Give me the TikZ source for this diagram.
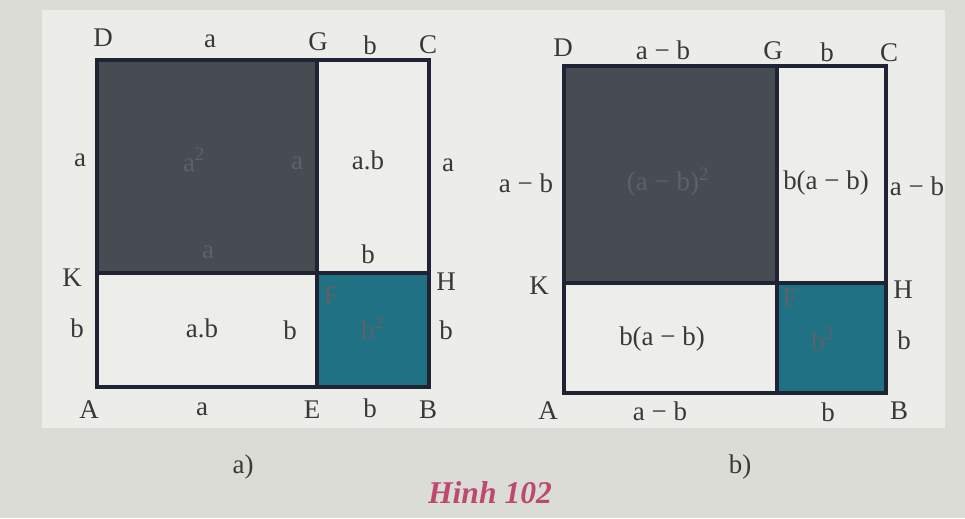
\documentclass[tikz,border=0pt]{standalone}
\usepackage{fontspec}
\setmainfont{Liberation Serif}
\definecolor{bgout}{HTML}{DCDCD6}
\definecolor{panel}{HTML}{ECECE8}
\definecolor{boxwhite}{HTML}{EDEDEA}
\definecolor{darkfill}{HTML}{474C53}
\definecolor{tealfill}{HTML}{1F7183}
\definecolor{edge}{HTML}{1F2333}
\definecolor{ink}{HTML}{383838}
\definecolor{dimink}{HTML}{5C6268}
\definecolor{pinkink}{HTML}{BC4A70}
\tikzset{
  lbl/.style={text=ink, font=\fontsize{23}{26}\selectfont, inner sep=0pt},
  dimlbl/.style={text=dimink, font=\fontsize{23}{26}\selectfont, inner sep=0pt},
  outline/.style={draw=edge, line width=3pt, line join=miter},
}
\begin{document}
\begin{tikzpicture}[x=0.03cm,y=-0.03cm]
\useasboundingbox (0,0) rectangle (965,518);
\fill[bgout] (0,0) rectangle (965,518);
\fill[panel] (42,10) rectangle (945,428);

% ---------- figure a ----------
\coordinate (aD) at (97,60);
\coordinate (aG) at (317,60);
\coordinate (aC) at (429,60);
\coordinate (aK) at (97,273);
\coordinate (aF) at (317,273);
\coordinate (aH) at (429,273);
\coordinate (aA) at (97,387);
\coordinate (aE) at (317,387);
\coordinate (aB) at (429,387);
\fill[boxwhite] (aD) rectangle (aB);
\fill[darkfill] (aD) rectangle (aF);
\fill[tealfill] (aF) rectangle (aB);
\draw[outline] (aD) rectangle (aB);
\draw[outline] (aG) -- (aE);
\draw[outline] (aK) -- (aH);

\node[lbl] (laD) at (103,38) {D};
\node[lbl] (laDG) at (210,41) {a};
\node[lbl] (laG) at (318,42) {G};
\node[lbl] (laGC) at (370,45) {b};
\node[lbl] (laC) at (428,45) {C};
\node[lbl] (laL1) at (80,160) {a};
\node[dimlbl] (laa2) at (194,160) {a\textsuperscript{2}};
\node[dimlbl] (laIn1) at (297,163) {a};
\node[lbl] (laab1) at (368,160) {a.b};
\node[lbl] (laR1) at (448,165) {a};
\node[dimlbl] (laIn2) at (208,252) {a};
\node[lbl] (laIn3) at (368,254) {b};
\node[lbl] (laK) at (72,278) {K};
\node[lbl] (laH) at (446,282) {H};
\node[dimlbl] (laF) at (331,296) {F};
\node[lbl] (laL2) at (77,328) {b};
\node[lbl] (laab2) at (202,328) {a.b};
\node[lbl] (laIn4) at (290,330) {b};
\node[dimlbl] (lab2) at (373,328) {b\textsuperscript{2}};
\node[lbl] (laR2) at (446,330) {b};
\node[lbl] (laA) at (89,410) {A};
\node[lbl] (laAE) at (202,409) {a};
\node[lbl] (laE) at (312,410) {E};
\node[lbl] (laEB) at (370,408) {b};
\node[lbl] (laB) at (428,410) {B};
\node[lbl] (capa) at (243,467) {a)};

% ---------- figure b ----------
\coordinate (bD) at (564,66);
\coordinate (bG) at (777,66);
\coordinate (bC) at (886,66);
\coordinate (bK) at (564,283);
\coordinate (bF) at (777,283);
\coordinate (bH) at (886,283);
\coordinate (bA) at (564,393);
\coordinate (bE) at (777,393);
\coordinate (bB) at (886,393);
\fill[boxwhite] (bD) rectangle (bB);
\fill[darkfill] (bD) rectangle (bF);
\fill[tealfill] (bF) rectangle (bB);
\draw[outline] (bD) rectangle (bB);
\draw[outline] (bG) -- (bE);
\draw[outline] (bK) -- (bH);

\node[lbl] (lbD) at (563,48) {D};
\node[lbl] (lbDG) at (663,50) {a − b};
\node[lbl] (lbG) at (773,51) {G};
\node[lbl] (lbGC) at (827,52) {b};
\node[lbl] (lbC) at (889,53) {C};
\node[lbl] (lbL1) at (526,183) {a − b};
\node[dimlbl] (lbab2) at (668,182) {(a − b)\textsuperscript{2}};
\node[lbl] (lbba1) at (826,183) {b(a − b)};
\node[lbl] (lbR1) at (917,186) {a − b};
\node[lbl] (lbK) at (539,286) {K};
\node[lbl] (lbH) at (903,290) {H};
\node[dimlbl] (lbF) at (790,298) {F};
\node[lbl] (lbba2) at (662,339) {b(a − b)};
\node[dimlbl] (lbb2) at (823,339) {b\textsuperscript{2}};
\node[lbl] (lbR2) at (904,340) {b};
\node[lbl] (lbA) at (548,411) {A};
\node[lbl] (lbAE) at (660,411) {a − b};
\node[lbl] (lbEB) at (828,412) {b};
\node[lbl] (lbB) at (899,411) {B};
\node[lbl] (capb) at (740,467) {b)};

\node[text=pinkink, font=\fontsize{27}{30}\selectfont\bfseries\itshape, inner sep=0pt] (title) at (490,493) {Hinh 102};
\end{tikzpicture}
\end{document}
